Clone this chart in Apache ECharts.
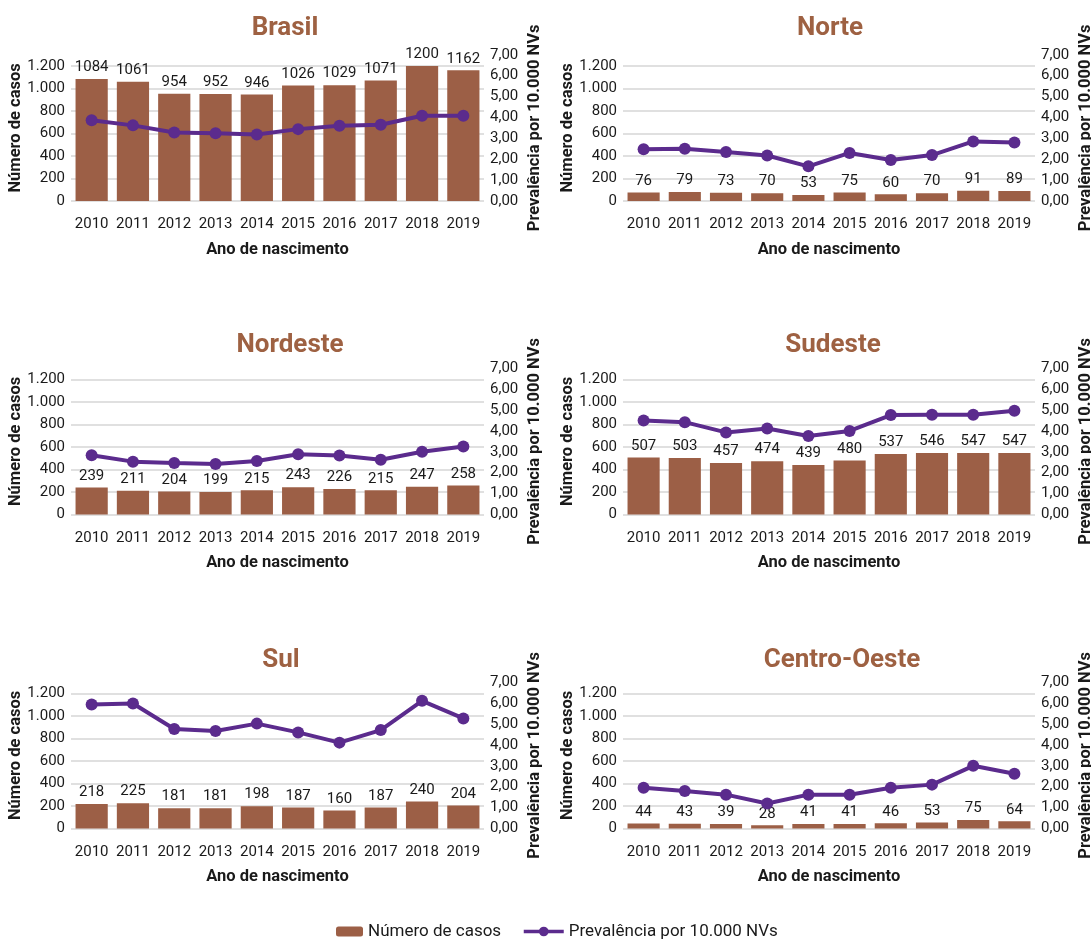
<!DOCTYPE html>
<html>
<head>
<meta charset="utf-8">
<script src="https://cdn.jsdelivr.net/npm/echarts@6/dist/echarts.min.js"></script>
<style>
html,body{margin:0;padding:0;background:#fff;}
#chart{width:1091px;height:941px;}
</style>
</head>
<body>
<div id="chart"></div>
<script>
const years = ['2010','2011','2012','2013','2014','2015','2016','2017','2018','2019'];
const regionNames = ['Brasil','Norte','Nordeste','Sudeste','Sul','Centro-Oeste'];

const brasilCases = [1084,1061,954,952,946,1026,1029,1071,1200,1162];
const brasilPrev  = [3.86,3.62,3.28,3.24,3.18,3.44,3.60,3.65,4.08,4.08];

const norteCases = [76,79,73,70,53,75,60,70,91,89];
const nortePrev  = [2.48,2.50,2.35,2.18,1.66,2.30,1.96,2.20,2.85,2.80];

const nordesteCases = [239,211,204,199,215,243,226,215,247,258];
const nordestePrev  = [2.84,2.53,2.46,2.42,2.56,2.88,2.82,2.62,3.00,3.25];

const sudesteCases = [507,503,457,474,439,480,537,546,547,547];
const sudestePrev  = [4.50,4.42,3.93,4.12,3.76,4.00,4.76,4.77,4.77,4.97];

const sulCases = [218,225,181,181,198,187,160,187,240,204];
const sulPrev  = [5.93,5.98,4.76,4.67,5.02,4.60,4.11,4.71,6.11,5.27];

const coCases = [44,43,39,28,41,41,46,53,75,64];
const coPrev  = [1.95,1.80,1.62,1.20,1.62,1.62,1.95,2.10,3.00,2.62];

const casesName = 'Número de casos';
const prevName = 'Prevalência por 10.000 NVs';
const xName = 'Ano de nascimento';

const casesSeries = [brasilCases, norteCases, nordesteCases, sudesteCases, sulCases, coCases];
const prevSeries = [brasilPrev, nortePrev, nordestePrev, sudestePrev, sulPrev, coPrev];

// layout
const FONT = "Roboto, 'Liberation Sans', sans-serif";
const BAR = '#9C5F46';
const LINE = '#5B2B8D';
const TITLE = '#9E6142';
const TXT = '#1a1a1a';
const GRIDC = '#D6D6D6';

const colLeft = [71, 623];
const colWidth = [413, 412];
const rowZero = [201, 514.5, 828.5];
const plotH = 146.25;
const titlePos = [[285,28],[830,28],[290,345],[833,345],[281,660],[842,660]];

const grids = [], xAxes = [], yAxes = [], series = [], graphics = [];
for (let i = 0; i < 6; i++) {
  const col = i % 2, row = Math.floor(i / 2);
  grids.push({left: colLeft[col], width: colWidth[col], top: rowZero[row] - plotH, height: plotH,
    containLabel: false, outerBoundsMode: 'none'});
  xAxes.push({
    type: 'category', gridIndex: i, data: years,
    axisLine: {show: false}, axisTick: {show: false},
    axisLabel: {color: TXT, fontSize: 15, fontFamily: FONT, margin: 16, interval: 0},
    name: xName, nameLocation: 'middle', nameGap: 40, nameMoveOverlap: false,
    nameTextStyle: {color: TXT, fontSize: 16.5, fontWeight: 'bold', fontFamily: FONT}
  });
  yAxes.push({
    type: 'value', gridIndex: i, min: 0, max: 1300, interval: 200,
    axisLine: {show: false}, axisTick: {show: false},
    axisLabel: {color: TXT, fontSize: 15, fontFamily: FONT, margin: 6, showMaxLabel: false,
      formatter: v => v > 1200 ? '' : v.toLocaleString('de-DE')},
    splitLine: {show: true, showMaxLine: false, lineStyle: {color: GRIDC, width: 1.5}},
    name: casesName, nameLocation: 'middle', nameGap: 47, nameRotate: 90, nameMoveOverlap: false,
    nameTextStyle: {color: TXT, fontSize: 16.5, fontWeight: 'bold', fontFamily: FONT}
  });
  yAxes.push({
    type: 'value', gridIndex: i, position: 'right', min: 0, max: 7, interval: 1,
    axisLine: {show: false}, axisTick: {show: false}, splitLine: {show: false},
    axisLabel: {color: TXT, fontSize: 15, fontFamily: FONT, margin: 6,
      formatter: v => v.toFixed(2).replace('.', ',')},
    name: prevName, nameLocation: 'middle', nameGap: 42, nameRotate: 90, nameMoveOverlap: false,
    nameTextStyle: {color: TXT, fontSize: 16.5, fontWeight: 'bold', fontFamily: FONT}
  });
  series.push({
    type: 'bar', name: casesName, xAxisIndex: i, yAxisIndex: 2 * i,
    data: casesSeries[i], barCategoryGap: '22%',
    itemStyle: {color: BAR},
    label: {show: true, position: 'top', distance: 4, color: TXT, fontSize: 15, fontFamily: FONT}
  });
  series.push({
    type: 'line', name: prevName, xAxisIndex: i, yAxisIndex: 2 * i + 1,
    data: prevSeries[i], symbol: 'circle', symbolSize: 12,
    lineStyle: {color: LINE, width: 4}, itemStyle: {color: LINE}, z: 5
  });
  graphics.push({
    type: 'text', x: titlePos[i][0], y: titlePos[i][1],
    style: {text: regionNames[i], fill: TITLE, font: "bold 26px " + FONT, textAlign: 'center', textVerticalAlign: 'middle'}
  });
}

const chart = echarts.init(document.getElementById('chart'), null, {renderer: 'canvas'});
chart.setOption({
  animation: false,
  backgroundColor: '#fff',
  grid: grids, xAxis: xAxes, yAxis: yAxes, series: series,
  graphic: graphics,
  legend: [
    {data: [casesName], left: 336, top: 923, padding: 0, itemWidth: 27, itemHeight: 10, itemGap: 0,
     textStyle: {color: TXT, fontSize: 17, fontFamily: FONT}},
    {data: [{name: prevName, lineStyle: {width: 3.5, color: LINE}}], left: 522, top: 923, padding: 0,
     itemWidth: 40, itemHeight: 12, itemGap: 0,
     textStyle: {color: TXT, fontSize: 17, fontFamily: FONT}}
  ]
});
</script>
</body>
</html>
